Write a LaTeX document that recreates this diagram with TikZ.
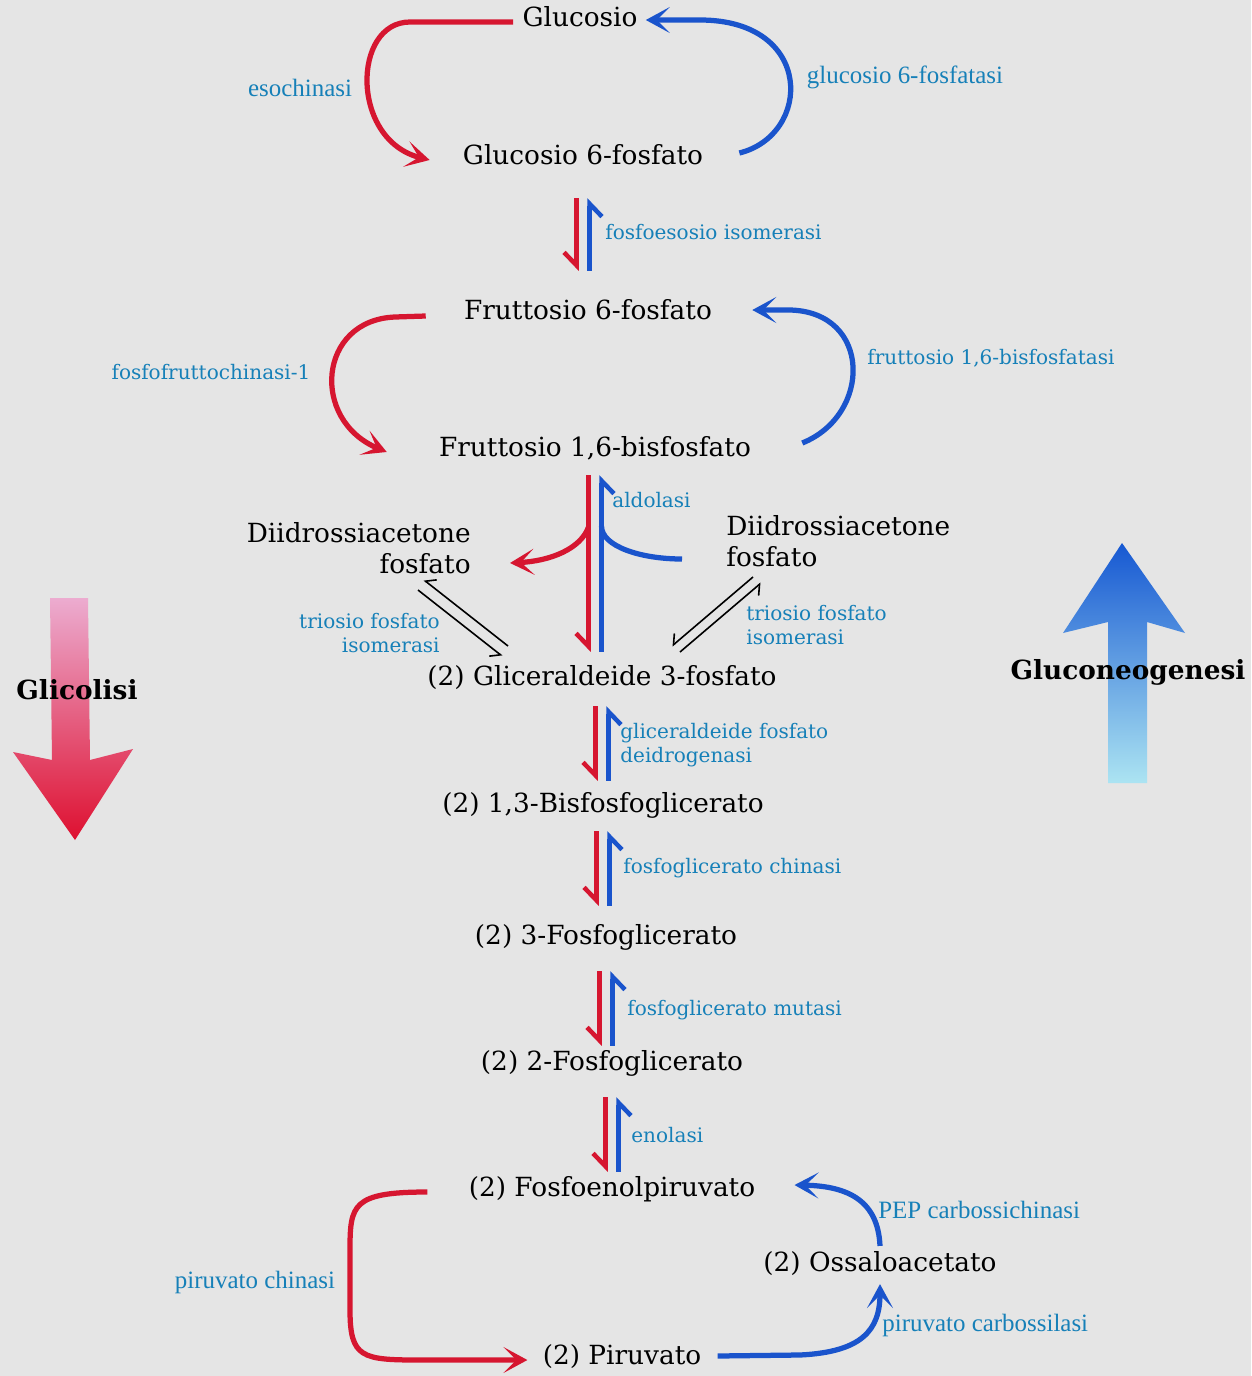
\documentclass[tikz,border=0pt]{standalone}
\usepackage{fontspec}
\setmainfont{DejaVu Serif}
\newfontfamily\tmsfont{Liberation Serif}
\usetikzlibrary{arrows.meta,calc}
\definecolor{glyred}{RGB}{214,22,48}
\definecolor{neoblue}{RGB}{26,84,204}
\definecolor{enzblue}{RGB}{22,128,184}
\definecolor{paper}{RGB}{229,229,229}
\definecolor{glytop}{RGB}{236,172,208}
\definecolor{glymid}{RGB}{202,52,124}
\definecolor{glybot}{RGB}{222,16,48}
\definecolor{neotop}{RGB}{22,88,210}
\definecolor{neomid}{RGB}{48,140,222}
\definecolor{neobot}{RGB}{172,228,242}
\tikzset{
  met/.style={inner sep=0pt, text height=11pt, text depth=3.5pt, font=\fontsize{15}{18}\selectfont},
  mettwo/.style={inner sep=0pt, font=\fontsize{15}{17.5}\selectfont},
  enz/.style={inner sep=0pt, text=enzblue, font=\fontsize{11.4}{13.6}\selectfont},
  enzt/.style={inner sep=0pt, text=enzblue, font=\tmsfont\fontsize{14.2}{16}\selectfont},
  glyc/.style={glyred, line width=1.05mm, -{Stealth[length=4.8mm,width=5.2mm,inset=2.6mm]}},
  neog/.style={neoblue, line width=1.05mm, -{Stealth[length=4.8mm,width=5.2mm,inset=2.6mm]}},
  glych/.style={glyred, line width=0.9mm, -{Straight Barb[harpoon,swap,length=2.6mm,width=5mm]}},
  neogh/.style={neoblue, line width=0.9mm, -{Straight Barb[harpoon,swap,length=2.6mm,width=5mm]}},
  isoh/.style={black, line width=0.32mm, -{Straight Barb[harpoon,swap,length=1.6mm,width=3.2mm]}},
}
\begin{document}
\begin{tikzpicture}[x=0.02cm, y=-0.02cm]

  \newcommand\revstep[4]{%
    \draw[glych] ($(#1.south)+(-6.5,#3)$) -- ($(#1.south |- #2.north)+(-6.5,-#4)$);
    \draw[neogh] ($(#1.south |- #2.north)+(6.5,-#4)$) -- ($(#1.south)+(6.5,#3)$);}

  \useasboundingbox (0,0) rectangle (1251,1376);
  \fill[paper] (0,0) rectangle (1251,1376);

  %% big arrows
  \shade[top color=glytop, middle color=glymid, bottom color=glybot]
    (50,598) -- (88,598) -- (90,760) -- (133,749) -- (75,840) -- (13,752) -- (52,760) -- cycle;
  \shade[top color=neotop, middle color=neomid, bottom color=neobot]
    (1108,783) -- (1147,783) -- (1147,622) -- (1185,633) -- (1122,543) -- (1063,633) -- (1108,622) -- cycle;
  \node[font=\bfseries\fontsize{15}{18}\selectfont] (glylab) at (77,690) {Glicolisi};
  \node[font=\bfseries\fontsize{15}{18}\selectfont] (neolab) at (1128,672) {Gluconeogenesi};

  %% metabolites
  \node[met] (glc) at (580,20) {Glucosio};
  \node[met] (g6p) at (583,158) {Glucosio 6-fosfato};
  \node[met] (f6p) at (588,313) {Fruttosio 6-fosfato};
  \node[met] (f16bp) at (595,450) {Fruttosio 1,6-bisfosfato};
  \node[mettwo, align=right, anchor=east] (dhapl) at (471,548) {Diidrossiacetone\\fosfato};
  \node[mettwo, align=left, anchor=west] (dhapr) at (726,541) {Diidrossiacetone\\fosfato};
  \node[met] (g3p) at (602,679) {(2) Gliceraldeide 3-fosfato};
  \node[met] (bpg) at (603,806) {(2) 1,3-Bisfosfoglicerato};
  \node[met] (pgt) at (606,938) {(2) 3-Fosfoglicerato};
  \node[met] (pgd) at (612,1064) {(2) 2-Fosfoglicerato};
  \node[met] (pep) at (612,1190) {(2) Fosfoenolpiruvato};
  \node[met] (oaa) at (880,1265) {(2) Ossaloacetato};
  \node[met] (pyr) at (622,1358) {(2) Piruvato};

  %% enzymes
  \node[enzt] (hk) at (300,88) {esochinasi};
  \node[enzt] (gsp) at (905,77) {glucosio 6-fosfatasi};
  \node[enz, anchor=west] (gpi) at (605,232) {fosfoesosio isomerasi};
  \node[enz] (pfk) at (211,372) {fosfofruttochinasi-1};
  \node[enz] (fbp) at (991,358) {fruttosio 1,6-bisfosfatasi};
  \node[enz, anchor=west] (ald) at (612,500) {aldolasi};
  \node[enz, align=right, anchor=east] (tpil) at (440,633) {triosio fosfato\\isomerasi};
  \node[enz, align=left, anchor=west] (tpir) at (746,625) {triosio fosfato\\isomerasi};
  \node[enz, align=left, anchor=west] (gapdh) at (620,745) {gliceraldeide fosfato\\deidrogenasi};
  \node[enz, anchor=west] (pgk) at (623,868) {fosfoglicerato chinasi};
  \node[enz, anchor=west] (pgm) at (627,1010) {fosfoglicerato mutasi};
  \node[enz, anchor=west] (eno) at (631,1135) {enolasi};
  \node[enzt, anchor=west] (pepck) at (878,1210) {PEP carbossichinasi};
  \node[enzt] (pk) at (255,1282) {piruvato chinasi};
  \node[enzt, anchor=west] (pc) at (882,1325) {piruvato carbossilasi};

  %% bypass loops
  \draw[glyc] ([shift={(-9,2)}]glc.west) -- (410,22) .. controls (352,22) and (350,140) .. ([shift={(-33,2)}]g6p.west);
  \draw[neog] ([shift={(36,-5)}]g6p.east) .. controls (812,135) and (815,20) .. (700,20) -- ([shift={(8,0)}]glc.east);
  \draw[glyc] ([shift={(-38,3)}]f6p.west) -- (395,317) .. controls (318,320) and (310,420) .. ([shift={(-52,2)}]f16bp.west);
  \draw[neog] ([shift={(51,-7)}]f16bp.east) .. controls (872,415) and (872,312) .. (790,310) -- ([shift={(40,-3)}]f6p.east);
  \draw[glyc] ([shift={(-41,2)}]pep.west) .. controls (352,1192) and (350,1205) .. (350,1250) -- (350,1310)
    .. controls (350,1358) and (362,1360) .. (420,1360) -- ([shift={(-15,2)}]pyr.west);
  \draw[neog] ([shift={(16,-2)}]pyr.east) -- (800,1355) .. controls (862,1352) and (880,1330) .. ([shift={(0,6)}]oaa.south);
  \draw[neog] ([shift={(0,-6)}]oaa.north) .. controls (878,1202) and (850,1186) .. ([shift={(39,-5)}]pep.east);

  %% reversible steps
  \revstep{g6p}{f6p}{27}{29}
  \revstep{f16bp}{g3p}{12}{14}
  \revstep{g3p}{bpg}{14}{12}
  \revstep{bpg}{pgt}{12}{19}
  \revstep{pgt}{pgd}{20}{5}
  \revstep{pgd}{pep}{20}{5}

  %% aldolasi branches
  \coordinate (redj) at ($(f16bp.south)+(-6.5,64)$);
  \coordinate (bluej) at ($(f16bp.south)+(6.5,63)$);
  \draw[glyc] (redj) .. controls +(-8,22) and +(40,-2) .. ([shift={(39,15)}]dhapl.east);
  \draw[neoblue, line width=1.05mm] ([shift={(-44,18)}]dhapr.west) .. controls +(-42,0) and +(0,20) .. (bluej);

  %% triosio fosfato isomerasi
  \coordinate (tla) at (421,585);
  \coordinate (tlb) at (505,651);
  \draw[isoh] ([shift={(3,-5)}]tlb) -- ([shift={(3,-5)}]tla);
  \draw[isoh] ([shift={(-3,5)}]tla) -- ([shift={(-3,5)}]tlb);
  \coordinate (tra) at (676,649);
  \coordinate (trb) at (757,580);
  \draw[isoh] ([shift={(-4,-3)}]trb) -- ([shift={(-4,-3)}]tra);
  \draw[isoh] ([shift={(4,3)}]tra) -- ([shift={(4,3)}]trb);

\end{tikzpicture}
\end{document}
